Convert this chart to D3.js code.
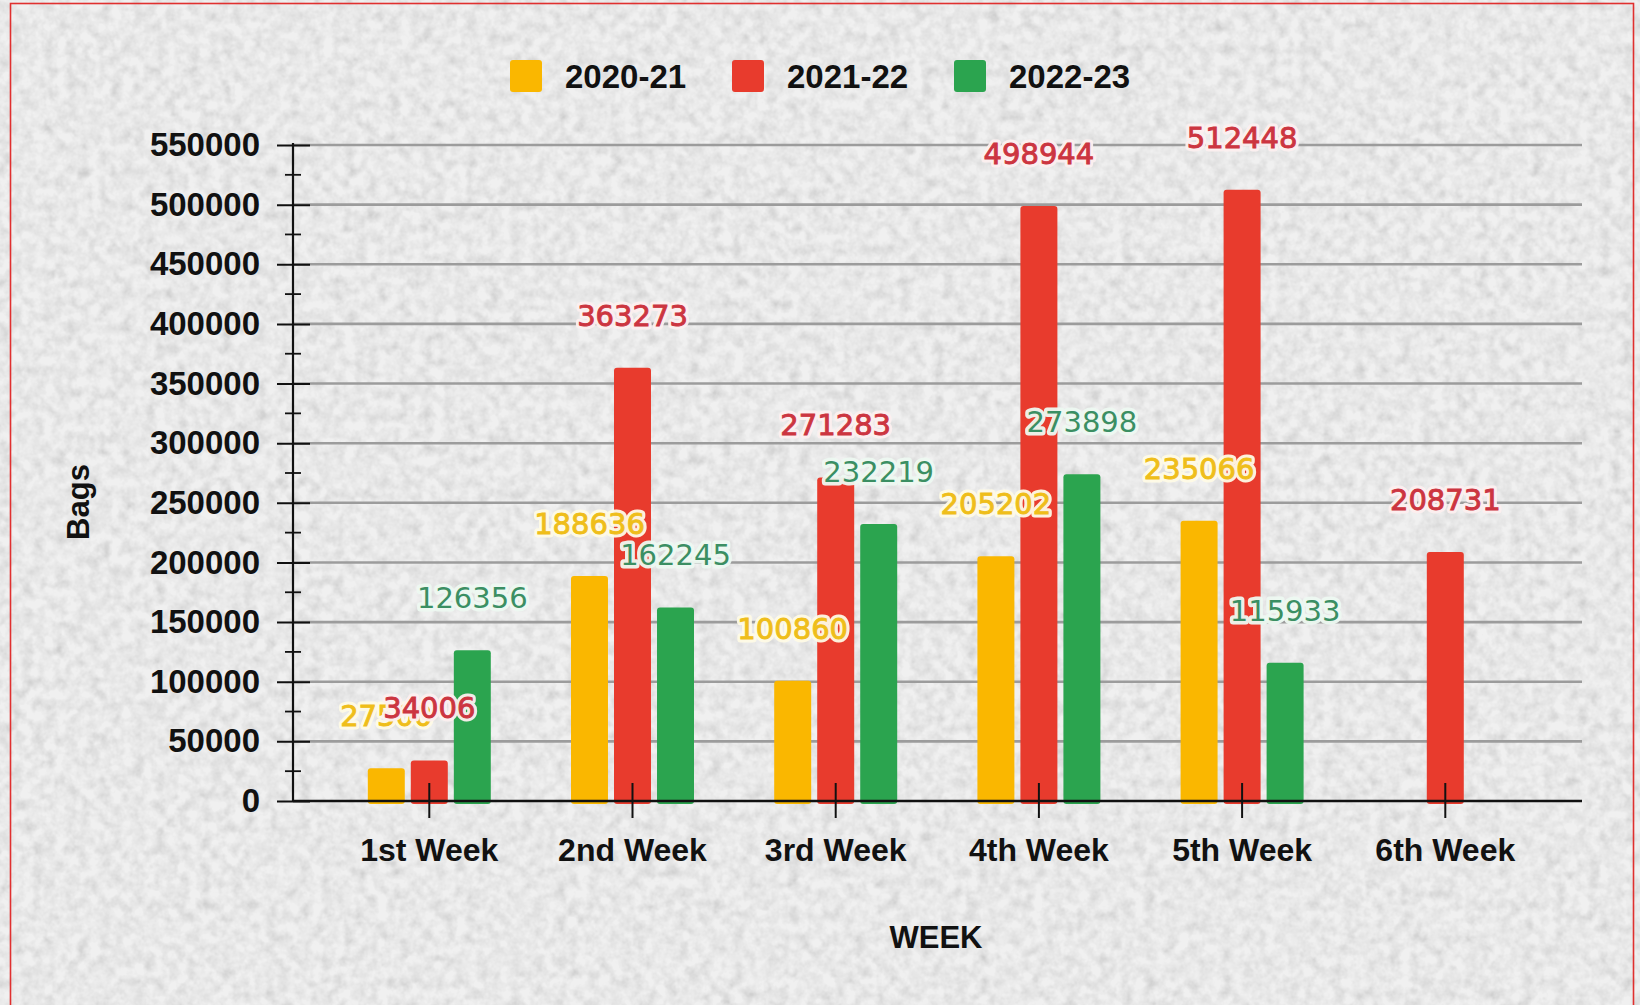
<!DOCTYPE html>
<html>
<head>
<meta charset="utf-8">
<script src="https://cdn.jsdelivr.net/npm/d3@7"></script>
<style>
  html, body { margin: 0; padding: 0; background: #e2e2e2; }
  svg { display: block; }
</style>
</head>
<body>
<svg id="chart" width="1640" height="1005"></svg>
<script>
// ---- data ----
const weeks = ["1st Week", "2nd Week", "3rd Week", "4th Week", "5th Week", "6th Week"];
const seriesNames = ["2020-21", "2021-22", "2022-23"];
const values2020 = [27500, 188636, 100860, 205202, 235066, null];
const values2021 = [34006, 363273, 271283, 498944, 512448, 208731];
const values2022 = [126356, 162245, 232219, 273898, 115933, null];
const yTickValues = [0, 50000, 100000, 150000, 200000, 250000, 300000, 350000, 400000, 450000, 500000, 550000];
const yMinorValues = [25000, 75000, 125000, 175000, 225000, 275000, 325000, 375000, 425000, 475000, 525000];
const seriesColors = ["#fab700", "#e83b2d", "#2ba44f"];
const labelColors = ["#efbe1a", "#cc3540", "#3b8f63"];
const haloColors = ["#fffbe6", "#fdf0f0", "#eef9f2"];
const yTitle = "Bags";
const xTitle = "WEEK";

const seriesValues = [values2020, values2021, values2022];

const W = 1640, H = 1005;
const svg = d3.select("#chart");
const defs = svg.append("defs");

// textured background
const f = defs.append("filter").attr("id", "noise").attr("x", 0).attr("y", 0)
  .attr("width", "100%").attr("height", "100%");
f.append("feTurbulence").attr("type", "fractalNoise").attr("baseFrequency", "0.09")
  .attr("numOctaves", 3).attr("seed", 7).attr("result", "t");
f.append("feColorMatrix").attr("in", "t").attr("type", "matrix")
  .attr("values", "0.5 0.5 0 0 0.38  0.5 0.5 0 0 0.38  0.5 0.5 0 0 0.38  0 0 0 0 1");

svg.append("rect").attr("width", W).attr("height", H).attr("fill", "#dedede");
svg.append("rect").attr("width", W).attr("height", H).attr("filter", "url(#noise)").attr("opacity", 0.55);

// red frame
svg.append("rect").attr("x", 10.5).attr("y", 3.5).attr("width", 1623).attr("height", 1030)
  .attr("fill", "none").attr("stroke", "#e0302f").attr("stroke-width", 1.6);

// ---- scales ----
const plotLeft = 293, plotRight = 1582, plotTop = 145, plotBottom = 801;
const x = d3.scaleBand().domain(weeks).range([327.7, 1546.9]).padding(0);
const xSub = d3.scaleBand().domain(seriesNames).range([-61.5, 61.5]).paddingInner(0.14).paddingOuter(0);
const y = d3.scaleLinear().domain([0, 550000]).range([plotBottom, plotTop]);

const axisFont = "'Liberation Sans', Arial, sans-serif";
const labelFont = "'DejaVu Sans', Verdana, sans-serif";

// gridlines
svg.append("g").selectAll("line").data(yTickValues.filter(v => v > 0)).join("line")
  .attr("x1", plotLeft).attr("x2", plotRight)
  .attr("y1", d => y(d)).attr("y2", d => y(d))
  .attr("stroke", "#9c9c9c").attr("stroke-width", 2.6);

// y axis via d3 axis (labels + major ticks)
const yAxis = d3.axisLeft(y).tickValues(yTickValues).tickSize(16).tickPadding(17)
  .tickFormat(d3.format("d"));
const gy = svg.append("g").attr("transform", `translate(${plotLeft},0)`).call(yAxis);
gy.select(".domain").remove();
gy.selectAll(".tick line").attr("stroke", "#111").attr("stroke-width", 2).attr("x2", 17).attr("x1", -16);
gy.selectAll(".tick text").attr("fill", "#111").style("font-family", axisFont)
  .style("font-size", "33px").style("font-weight", "bold");
// minor ticks
svg.append("g").selectAll("line").data(yMinorValues).join("line")
  .attr("x1", plotLeft - 8).attr("x2", plotLeft + 8)
  .attr("y1", d => y(d)).attr("y2", d => y(d))
  .attr("stroke", "#111").attr("stroke-width", 1.8);
// y axis line
svg.append("line").attr("x1", plotLeft).attr("x2", plotLeft).attr("y1", plotTop - 2).attr("y2", plotBottom)
  .attr("stroke", "#111").attr("stroke-width", 2.2);

// bars
seriesNames.forEach((s, si) => {
  svg.append("g").selectAll("rect")
    .data(weeks.map((w, i) => ({ w, v: seriesValues[si][i] })).filter(d => d.v != null))
    .join("rect")
    .attr("x", d => x(d.w) + x.bandwidth() / 2 + xSub(s))
    .attr("width", xSub.bandwidth())
    .attr("y", d => y(d.v))
    .attr("height", d => plotBottom - y(d.v) + 3)
    .attr("rx", 3)
    .attr("fill", seriesColors[si]);
});

// x axis
const xAxis = d3.axisBottom(x).tickSize(17).tickPadding(20);
const gx = svg.append("g").attr("transform", `translate(0,${plotBottom})`).call(xAxis);
gx.select(".domain").remove();
gx.selectAll(".tick line").attr("stroke", "#111").attr("stroke-width", 2).attr("y1", -18);
gx.selectAll(".tick text").attr("fill", "#111").style("font-family", axisFont)
  .style("font-size", "32px").style("font-weight", "bold").attr("dy", "0.71em").attr("y", 37);
svg.append("line").attr("x1", plotLeft).attr("x2", plotRight).attr("y1", plotBottom).attr("y2", plotBottom)
  .attr("stroke", "#111").attr("stroke-width", 2.6);

// data labels
seriesNames.forEach((s, si) => {
  const data = weeks.map((w, i) => ({ w, v: seriesValues[si][i] })).filter(d => d.v != null);
  const g = svg.append("g").selectAll("g").data(data).join("g")
    .attr("transform", d => `translate(${x(d.w) + x.bandwidth() / 2 + xSub(s) + xSub.bandwidth() / 2},${y(d.v) - 42})`);
  g.append("text").text(d => d.v)
    .attr("text-anchor", "middle")
    .style("font-family", labelFont).style("font-size", "29px")
    .attr("fill", haloColors[si]).attr("stroke", haloColors[si]).attr("stroke-width", 7)
    .attr("stroke-linejoin", "round").attr("opacity", 0.95);
  g.append("text").text(d => d.v)
    .attr("text-anchor", "middle")
    .style("font-family", labelFont).style("font-size", "29px")
    .attr("fill", labelColors[si])
    .attr("stroke", labelColors[si]).attr("stroke-width", si === 2 ? 0 : 0.9);
});

// legend
const legend = svg.append("g").attr("transform", "translate(510,60)");
seriesNames.forEach((s, si) => {
  const gi = legend.append("g").attr("transform", `translate(${si * 222},0)`);
  gi.append("rect").attr("width", 32).attr("height", 32).attr("rx", 3).attr("fill", seriesColors[si]);
  gi.append("text").attr("x", 55).attr("y", 28).text(s)
    .attr("fill", "#111").style("font-family", axisFont).style("font-size", "33px").style("font-weight", "bold");
});

// axis titles
svg.append("text").text(yTitle)
  .attr("transform", "translate(89,502) rotate(-90)")
  .attr("text-anchor", "middle").attr("fill", "#111")
  .style("font-family", axisFont).style("font-size", "31px").style("font-weight", "bold");
svg.append("text").text(xTitle)
  .attr("x", 936).attr("y", 948)
  .attr("text-anchor", "middle").attr("fill", "#111")
  .style("font-family", axisFont).style("font-size", "31px").style("font-weight", "bold");
</script>
</body>
</html>
